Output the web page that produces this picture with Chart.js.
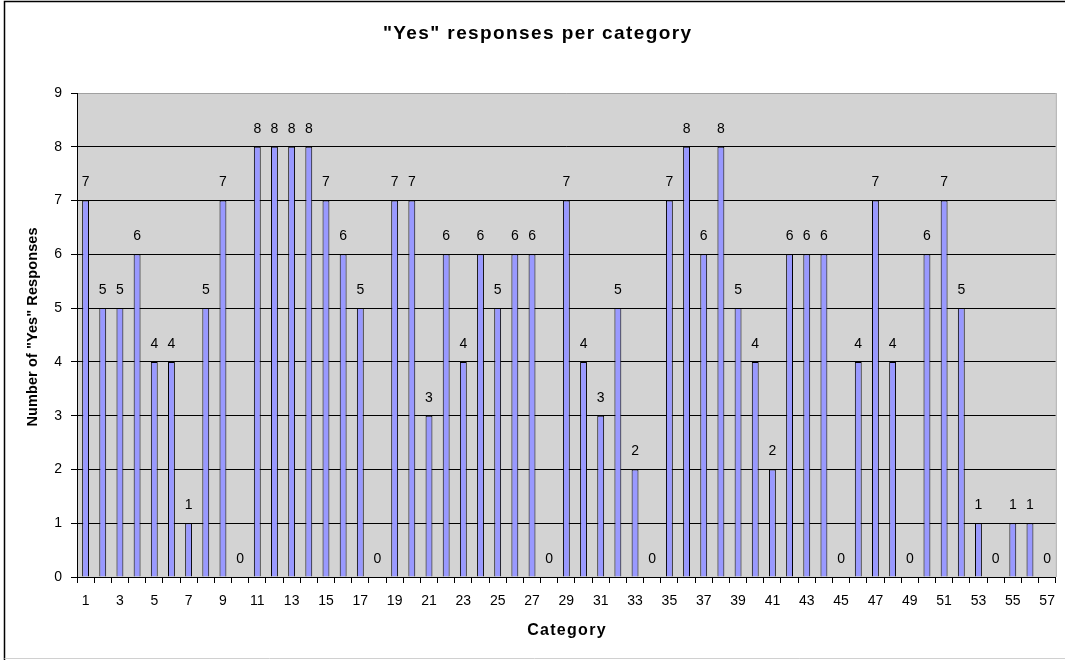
<!DOCTYPE html>
<html>
<head>
<meta charset="utf-8">
<title>"Yes" responses per category</title>
<script src="https://cdn.jsdelivr.net/npm/chart.js@4.4.1/dist/chart.umd.min.js"></script>
<style>
  html, body { margin: 0; padding: 0; background: #ffffff; }
  #wrap { width: 1065px; height: 661px; position: relative; }
</style>
</head>
<body>
<div id="wrap"><canvas id="chart" width="1065" height="661"></canvas></div>
<script>
// Category numbers 1..57
const categories = ['1','2','3','4','5','6','7','8','9','10','11','12','13','14','15','16','17','18','19','20',
  '21','22','23','24','25','26','27','28','29','30','31','32','33','34','35','36','37','38','39','40',
  '41','42','43','44','45','46','47','48','49','50','51','52','53','54','55','56','57'];

// Number of "Yes" responses for each category
const yesCounts = [7,5,5,6,4,4,1,5,7,0, 8,8,8,8,7,6,5,0,7,7, 3,6,4,6,5,6,6,0,7,4,
  3,5,2,0,7,8,6,8,5,4, 2,6,6,6,0,4,7,4,0,6, 7,5,1,0,1,1,0];

// Value axis ticks
const yTicks = [0,1,2,3,4,5,6,7,8,9];

// Text of the chart and axis titles
const chartTitle = '"Yes" responses per category';
const xTitle = 'Category';
const yTitle = 'Number of "Yes" Responses';

const FONT = 'Liberation Sans, Arial, Helvetica, sans-serif';

// Grey plot area, right edge, and the outer frame of the chart
const framePlugin = {
  id: 'frame',
  beforeDraw(chart) {
    const { ctx, chartArea: a } = chart;
    ctx.save();
    ctx.fillStyle = '#d3d3d3';
    ctx.fillRect(a.left, a.top, a.right - a.left, a.bottom - a.top);
    ctx.restore();
  },
  afterDraw(chart) {
    const { ctx, chartArea: a } = chart;
    ctx.save();
    ctx.lineWidth = 1;
    ctx.strokeStyle = '#a0a0a0';
    ctx.beginPath();
    ctx.moveTo(a.right + 0.5, a.top);
    ctx.lineTo(a.right + 0.5, a.bottom);
    ctx.stroke();
    // outer frame
    ctx.strokeStyle = '#000000';
    ctx.lineWidth = 1.5;
    ctx.beginPath();
    ctx.moveTo(4.5, 660);
    ctx.lineTo(4.5, 1.5);
    ctx.lineTo(1065, 1.5);
    ctx.stroke();
    ctx.strokeStyle = '#d0d0d0';
    ctx.lineWidth = 1;
    ctx.beginPath();
    ctx.moveTo(4.5, 658.5);
    ctx.lineTo(1065, 658.5);
    ctx.stroke();
    ctx.restore();
  }
};

// Chart title and axis titles, drawn with a little extra letter spacing
const titlesPlugin = {
  id: 'titles',
  afterDraw(chart) {
    const { ctx, chartArea: a } = chart;
    const put = (text, x, y, size, spacing, angle) => {
      ctx.save();
      ctx.translate(x, y);
      if (angle) ctx.rotate(angle);
      ctx.font = 'bold ' + size + 'px ' + FONT;
      if ('letterSpacing' in ctx) ctx.letterSpacing = spacing + 'px';
      ctx.fillStyle = '#000000';
      ctx.textAlign = 'center';
      ctx.textBaseline = 'middle';
      ctx.fillText(text, spacing / 2, 0);
      ctx.restore();
    };
    put(chartTitle, 537, 34, 19, 1.4, 0);
    put(xTitle, (a.left + a.right) / 2, 631, 16, 1.3, 0);
    put(yTitle, 33, 327, 14.5, 0.1, -Math.PI / 2);
  }
};

// Value printed above each bar
const valueLabels = {
  id: 'valueLabels',
  afterDatasetsDraw(chart) {
    const { ctx } = chart;
    const meta = chart.getDatasetMeta(0);
    const data = chart.data.datasets[0].data;
    ctx.save();
    ctx.font = '14px ' + FONT;
    ctx.fillStyle = '#000000';
    ctx.textAlign = 'center';
    ctx.textBaseline = 'middle';
    meta.data.forEach((bar, i) => {
      ctx.fillText(String(data[i]), bar.x, bar.y - 18);
    });
    ctx.restore();
  }
};

new Chart(document.getElementById('chart'), {
  type: 'bar',
  data: {
    labels: categories,
    datasets: [{
      data: yesCounts,
      backgroundColor: '#9999ff',
      borderColor: '#000000',
      borderWidth: 1,
      borderSkipped: 'bottom',
      barPercentage: 0.4,
      categoryPercentage: 1.0
    }]
  },
  options: {
    responsive: false,
    animation: false,
    devicePixelRatio: 1,
    layout: { padding: { left: 5, right: 8, top: 93, bottom: 10 } },
    plugins: {
      legend: { display: false },
      tooltip: { enabled: false },
      title: { display: false }
    },
    scales: {
      x: {
        type: 'category',
        offset: true,
        grid: {
          offset: true,
          drawOnChartArea: false,
          drawTicks: true,
          tickLength: 6,
          tickColor: '#000000',
          color: '#000000'
        },
        border: { color: '#000000', width: 1 },
        ticks: {
          autoSkip: false,
          maxRotation: 0,
          minRotation: 0,
          padding: 10,
          color: '#000000',
          font: { family: FONT, size: 14 },
          callback: (v, i) => (i % 2 === 0 ? categories[i] : '')
        },
        afterFit(scale) { scale.height = 74; }
      },
      y: {
        min: 0,
        max: 9,
        afterBuildTicks(scale) { scale.ticks = yTicks.map(v => ({ value: v })); },
        grid: {
          color: (c) => (c.tick && c.tick.value === 9 ? '#a0a0a0' : '#000000'),
          tickColor: '#000000',
          tickLength: 6,
          lineWidth: 1
        },
        border: { color: '#000000', width: 1 },
        ticks: {
          padding: 9,
          color: '#000000',
          font: { family: FONT, size: 14 }
        },
        afterFit(scale) { scale.width = 72; }
      }
    }
  },
  plugins: [framePlugin, valueLabels, titlesPlugin]
});
</script>
</body>
</html>
